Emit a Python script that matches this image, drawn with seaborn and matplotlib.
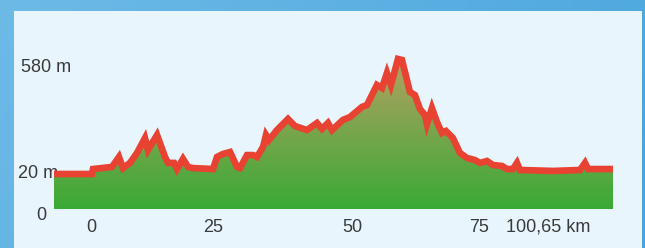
import numpy as np
import matplotlib
matplotlib.use("Agg")
import matplotlib.pyplot as plt
import matplotlib.transforms as mtransforms
from matplotlib.colors import LinearSegmentedColormap
from matplotlib.patches import Rectangle
import seaborn as sns
import pandas as pd

# ---- data ----
distance_km = [0, 6.84, 7.02, 10.44, 11.70, 12.42, 13.68, 14.94, 16.38, 16.92, 18.55,
               19.99, 20.53, 21.61, 22.15, 23.23, 24.13, 25.03, 28.63, 29.35, 30.43,
               31.69, 32.95, 33.49, 34.75, 35.83, 36.55, 37.63, 38.17, 38.71, 40.15,
               42.13, 43.39, 45.55, 47.35, 48.25, 49.33, 50.05, 52.03, 53.29, 55.45,
               56.35, 58.15, 59.05, 59.95, 60.67, 61.93, 62.65, 64.09, 64.99, 65.89,
               66.79, 67.15, 68.05, 68.95, 69.85, 70.57, 71.83, 73.09, 74.35, 75.79,
               76.69, 77.96, 79.04, 80.66, 81.56, 82.64, 83.36, 83.90, 89.84, 94.71,
               95.61, 96.15, 100.65]
elevation_m = [20, 20, 46, 57, 109, 51, 78, 130, 208, 146, 224,
               109, 78, 78, 46, 99, 57, 51, 46, 109, 125,
               135, 57, 51, 119, 119, 109, 161, 224, 198, 250,
               308, 271, 250, 287, 256, 287, 250, 303, 318, 371,
               381, 486, 470, 549, 486, 622, 617, 449, 433, 360,
               329, 282, 365, 292, 235, 245, 208, 130, 104, 93,
               78, 88, 67, 62, 46, 46, 78, 41, 36, 41,
               78, 46, 46]
xtick_pos = [6.7, 28.6, 53.7, 76.5, 88.9]
xtick_labels = ["0", "25", "50", "75", "100,65 km"]
ytick_vals = [20, 580]
ytick_labels = ["20 m", "580 m"]
zero_label = "0"

df = pd.DataFrame({"km": distance_km, "elev": elevation_m})

W, H = 645, 248
fig = plt.figure(figsize=(W / 100, H / 100), dpi=100)
font = ["Liberation Sans", "DejaVu Sans"]
txtcol = "#3a3a3a"
fs = 13

# background gradient (blue frame)
bg = fig.add_axes([0, 0, 1, 1])
bg.set_axis_off()
gx = np.linspace(0, 1, 256)
gy = np.linspace(0, 1, 64)
G = gx[None, :] * 0.8 + gy[:, None] * 0.2
bcmap = LinearSegmentedColormap.from_list("b", ["#6dbae7", "#49a5dd"])
bg.imshow(G, cmap=bcmap, aspect="auto", extent=[0, 1, 0, 1], origin="upper")
bg.set_xlim(0, 1)
bg.set_ylim(0, 1)
# light panel
bg.add_patch(Rectangle((14 / W, 0), (642 - 14) / W, (H - 11) / H,
                       facecolor="#e8f5fd", edgecolor="none"))

# main axes
x0, x1 = 54, 613
ybot, ytop = 209, 20
ax = fig.add_axes([x0 / W, (H - ybot) / H, (x1 - x0) / W, (ybot - ytop) / H])
ax.patch.set_alpha(0)
for s in ax.spines.values():
    s.set_visible(False)

def px_to_elev(py):
    return 20 + (174 - py) * 560 / 107

ymin = px_to_elev(ybot)
ymax = px_to_elev(ytop)
ax.set_xlim(0, 100.65)
ax.set_ylim(ymin, ymax)

# gradient fill clipped to profile
peak = max(elevation_m)
fcmap = LinearSegmentedColormap.from_list("f", ["#3aaa35", "#b3a163"])
grad = np.linspace(0, 1, 256)[:, None]
img = ax.imshow(grad, cmap=fcmap, aspect="auto", origin="lower",
                extent=[0, 100.65, ymin, peak], zorder=1)
poly = ax.fill_between(df["km"], df["elev"], ymin, facecolor="none", edgecolor="none")
path = poly.get_paths()[0]
img.set_clip_path(path, transform=ax.transData)

sns.lineplot(data=df, x="km", y="elev", ax=ax, color="#e84232", linewidth=4.8,
             zorder=3, solid_joinstyle="miter", solid_capstyle="butt")

# tick labels
ax.set_xticks(xtick_pos)
ax.set_xticklabels(xtick_labels, fontsize=fs, color=txtcol, family=font)
ax.tick_params(axis="x", length=0, pad=7)
ax.set_yticks([])
ax.set_xlabel("")
ax.set_ylabel("")

tr = mtransforms.blended_transform_factory(fig.transFigure, ax.transData)
ax.text(21 / W, ytick_vals[1], ytick_labels[1], transform=tr, ha="left", va="center",
        fontsize=fs, color=txtcol, family=font, zorder=0.5, clip_on=False)
ax.text(18 / W, ytick_vals[0], ytick_labels[0], transform=tr, ha="left", va="center",
        fontsize=fs, color=txtcol, family=font, zorder=0.5, clip_on=False)
fig.text(41 / W, 1 - 216 / H, zero_label, ha="center", va="center",
         fontsize=fs, color=txtcol, family=font)

fig.savefig("out.png", dpi=100)
